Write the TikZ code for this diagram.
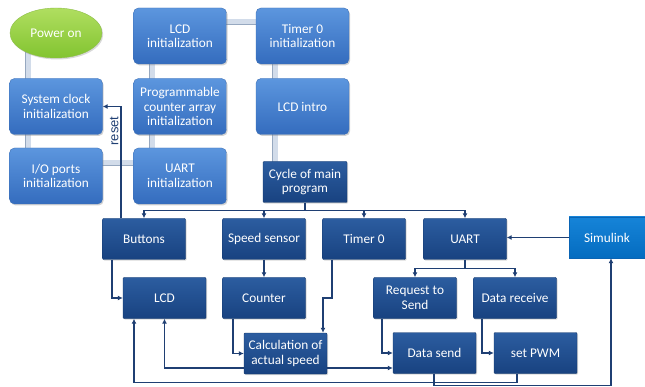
\documentclass[tikz,border=0pt]{standalone}
\usepackage{fontspec}
\setmainfont{Carlito}
\newfontfamily\resetfont{Liberation Sans}
\usetikzlibrary{arrows.meta,shapes.geometric,shadows,backgrounds}
\definecolor{navy}{RGB}{31,63,115}
\definecolor{barin}{RGB}{210,220,234}
\definecolor{barout}{RGB}{150,168,192}
\tikzset{
  basebox/.style={text=white, align=center, font=\fontsize{13.3}{14.5}\selectfont, inner sep=2pt},
  initbox/.style={basebox, rounded corners=5pt, top color={rgb,255:red,92;green,150;blue,222}, bottom color={rgb,255:red,52;green,108;blue,190}, draw={rgb,255:red,62;green,112;blue,182}, minimum width=93pt, minimum height=56pt, drop shadow={shadow xshift=1.2pt, shadow yshift=-1.5pt, opacity=0.35}},
  darkbox/.style={basebox, rounded corners=1pt, top color={rgb,255:red,44;green,93;blue,160}, bottom color={rgb,255:red,24;green,66;blue,128}, draw={rgb,255:red,20;green,56;blue,108}, minimum width=83pt, minimum height=41pt, drop shadow={shadow xshift=1pt, shadow yshift=-1.2pt, opacity=0.3}},
  simbox/.style={basebox, top color={rgb,255:red,22;green,132;blue,216}, bottom color={rgb,255:red,4;green,108;blue,192}, draw={rgb,255:red,10;green,100;blue,180}, minimum width=76pt, minimum height=41pt},
  powerbox/.style={basebox, ellipse, top color={rgb,255:red,176;green,222;blue,96}, bottom color={rgb,255:red,130;green,196;blue,48}, draw={rgb,255:red,140;green,190;blue,70}, minimum width=92pt, minimum height=50pt, drop shadow={shadow xshift=1.2pt, shadow yshift=-1.5pt, opacity=0.3}},
  bar/.style={draw=barout, double=barin, double distance=5pt, line width=0.9pt},
  link/.style={draw=navy, line width=1.2pt},
  arr/.style={link, -{Latex[length=5pt,width=5pt]}},
}
\begin{document}
\begin{tikzpicture}[x=1pt,y=-1pt]
\useasboundingbox (0,0) rectangle (645,387);
% init nodes
\node[powerbox] (power) at (56,33) {Power on};
\node[initbox] (sysclk) at (56,106.5) {System clock\\initialization};
\node[initbox] (io) at (56,176) {I/O ports\\initialization};
\node[initbox] (lcdinit) at (180,36) {LCD\\initialization};
\node[initbox] (pca) at (180,106.5) {Programmable\\counter array\\initialization};
\node[initbox] (uartinit) at (180,176) {UART\\initialization};
\node[initbox] (timerinit) at (302.5,36) {Timer 0\\initialization};
\node[initbox] (lcdintro) at (302.5,106.5) {LCD intro};
\node[darkbox, minimum width=84pt] (cycle) at (305,182) {Cycle of main\\program};
% row 2
\node[darkbox] (buttons) at (144,239) {Buttons};
\node[darkbox] (speed) at (264,239) {Speed sensor};
\node[darkbox] (timer) at (364,239) {Timer 0};
\node[darkbox] (uart) at (465,239) {UART};
\node[simbox] (simulink) at (607,237.5) {Simulink};
% row 3
\node[darkbox] (lcd) at (164.5,298) {LCD};
\node[darkbox] (counter) at (264,298) {Counter};
\node[darkbox] (rts) at (415,298) {Request to\\Send};
\node[darkbox] (drecv) at (515,298) {Data receive};
% row 4
\node[darkbox] (calc) at (285.5,353.5) {Calculation of\\actual speed};
\node[darkbox] (dsend) at (434.5,353) {Data send};
\node[darkbox] (pwm) at (535.5,353) {set PWM};
% gray bars
\begin{scope}[on background layer]
\fill[white] (0,0) rectangle (645,387);
\draw[bar] ([xshift=-28pt]power.center) -- ([xshift=-28pt]sysclk.center);
\draw[bar] ([xshift=-28pt]sysclk.center) -- ([xshift=-28pt]io.center);
\draw[bar] ([yshift=13pt]io.center) -- ([yshift=13pt]uartinit.center);
\draw[bar] ([xshift=-28pt]uartinit.center) -- ([xshift=-28pt]pca.center);
\draw[bar] ([xshift=-28pt]pca.center) -- ([xshift=-28pt]lcdinit.center);
\draw[bar] ([yshift=14pt]lcdinit.center) -- ([yshift=14pt]timerinit.center);
\draw[bar] ([xshift=-27.5pt]timerinit.center) -- ([xshift=-27.5pt]lcdintro.center);
\draw[bar] ([xshift=-27.5pt]lcdintro.center) -- ([xshift=-30pt]cycle.center);
\end{scope}
% bus from cycle
\draw[link] (cycle.south) -- ++(0,8) coordinate (bus);
\draw[arr] (bus) -| (buttons.north);
\draw[arr] (bus) -| (speed.north);
\draw[arr] (bus) -| (timer.north);
\draw[arr] (bus) -| (uart.north);
% reset
\draw[arr] ([xshift=-23pt]buttons.north) |- (sysclk.east)
  node[pos=0.39, rotate=90, anchor=south, inner sep=2pt, text=navy, font=\resetfont\fontsize{13}{15}\selectfont] {reset};
% buttons -> lcd
\draw[arr] ([xshift=-32pt]buttons.south) |- (lcd.west);
% speed -> counter
\draw[arr] (speed) -- (counter);
% timer -> calc
\coordinate (t1) at ([xshift=37.5pt]calc.north);
\draw[arr] ([xshift=-32pt]timer.south) |- (t1 |- counter.center) -- (t1);
% counter -> calc
\draw[arr] ([xshift=-31pt]counter.south) |- (calc.west);
% calc -> lcd
\draw[arr] ([yshift=-14.5pt]calc.west) -| (lcd.south);
% calc -> data send
\coordinate (c2) at ([yshift=-14.5pt]calc.east);
\draw[arr] (c2) -- (c2 -| dsend.west);
% uart -> rts, drecv
\draw[link] (uart.south) -- ++(0,9) coordinate (ub);
\draw[arr] (ub) -| (rts.north);
\draw[arr] (ub) -| (drecv.north);
% rts -> data send, drecv -> pwm
\draw[arr] ([xshift=-33pt]rts.south) |- (dsend.west);
\draw[arr] ([xshift=-33pt]drecv.south) |- (pwm.west);
% simulink -> uart
\draw[arr] (simulink.west) -- (simulink.west -| uart.east);
% set PWM -> LCD (outer loop)
\coordinate (l1) at ([xshift=-30.5pt]lcd.south);
\draw[arr] ([xshift=-18.5pt]pwm.south) -- ++(0,9) -| (l1);
% data send -> simulink
\coordinate (s1) at ([xshift=4pt]simulink.south);
\draw[arr] ([xshift=-0.5pt]dsend.south) -- ++(0,12) -| (s1);
\end{tikzpicture}
\end{document}
